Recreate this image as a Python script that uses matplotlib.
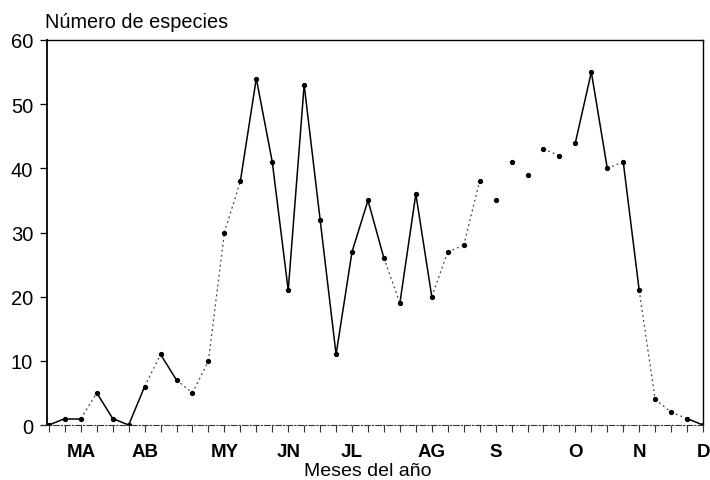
import matplotlib
matplotlib.use("Agg")
import matplotlib.pyplot as plt
import numpy as np

# ---- data ----
species = [0, 1, 1, 5, 1, 0, 6, 11, 7, 5, 10, 30, 38, 54, 41, 21, 53, 32, 11, 27,
           35, 26, 19, 36, 20, 27, 28, 38, 35, 41, 39, 43, 42, 44, 55, 40, 41, 21,
           4, 2, 1, 0]
month_labels = ["MA", "AB", "MY", "JN", "JL", "AG", "S", "O", "N", "D"]
month_index = [2, 6, 11, 15, 19, 24, 28, 33, 37, 41]
yticks = [0, 10, 20, 30, 40, 50, 60]
title = "Número de especies"
xlabel = "Meses del año"

# segment appearance in the printed scan (index of first point of segment)
faint_segments = {2, 6, 8, 9, 10, 11, 21, 24, 25, 26, 31, 35, 37, 38, 39}
missing_segments = {27, 28, 29, 30, 32}

plt.rcParams['font.family'] = ['Liberation Sans', 'DejaVu Sans']

fig = plt.figure(figsize=(7.10, 4.81), dpi=100)
ax = fig.add_axes([47/710, 1-426/481, (703-47)/710, (426-41)/481])

x = np.arange(len(species))
for i in range(len(species) - 1):
    if i in missing_segments:
        continue
    if i in faint_segments:
        ax.plot(x[i:i+2], species[i:i+2], color='#444444', lw=0.9,
                linestyle=(0, (1.5, 2.5)), solid_capstyle='round')
    else:
        ax.plot(x[i:i+2], species[i:i+2], color='black', lw=1.1)
ax.plot(x, species, linestyle='none', marker='o', ms=2.8, color='black')

ax.set_xlim(-0.12, len(species) - 1)
ax.set_ylim(0, 60)
ax.set_yticks(yticks)
ax.set_yticklabels([str(v) for v in yticks], fontsize=14.5)
ax.set_xticks(x)
labels = [""] * len(species)
for lab, idx in zip(month_labels, month_index):
    labels[idx] = lab
ax.set_xticklabels(labels, fontsize=13.5, fontweight='bold')
ax.tick_params(axis='y', direction='out', length=5, width=0.9, pad=5)
ax.tick_params(axis='x', direction='out', length=5, width=0.8, pad=8,
               color='#333333')

for s in ['left', 'top', 'right']:
    ax.spines[s].set_linewidth(1.0)
    ax.spines[s].set_color('black')
ax.spines['left'].set_linewidth(1.3)
ax.spines['bottom'].set_linestyle((0, (5, 2, 1, 2)))
ax.spines['bottom'].set_linewidth(0.8)
ax.spines['bottom'].set_color('#333333')
ax.spines['bottom'].set_bounds(-0.45, len(species) - 1)
ax.spines['bottom'].set_clip_on(False)

fig.text(45/710, 1-28/481, title, fontsize=14.3, ha='left', va='baseline')
fig.text(368/710, 1-476/481, xlabel, fontsize=14, ha='center', va='baseline')

fig.savefig("out.png", dpi=100)
